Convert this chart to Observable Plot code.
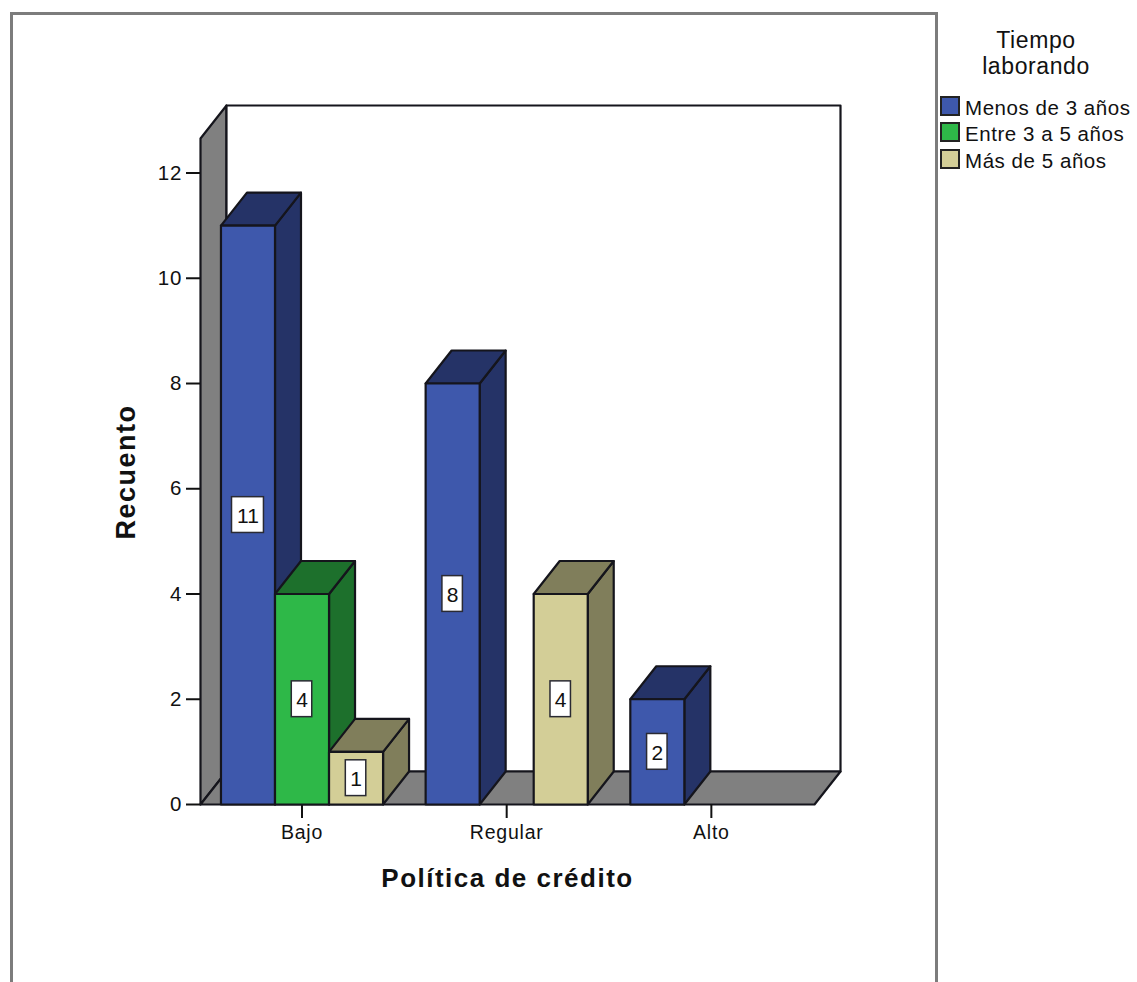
<!DOCTYPE html>
<html lang="es">
<head>
<meta charset="utf-8">
<title>Política de crédito por tiempo laborando</title>
<script src="https://cdn.jsdelivr.net/npm/d3@7"></script>
<script src="https://cdn.jsdelivr.net/npm/@observablehq/plot@0.6"></script>
<style>
  html, body { margin: 0; padding: 0; background: #fff; overflow: hidden; }
  #page { position: relative; width: 1137px; height: 982px; overflow: hidden; font-family: "Liberation Sans", Arial, sans-serif; color: #111; }
  #border { position: absolute; left: 10px; top: 12px; width: 922px; height: 1000px; border: 3px solid #7c7c7c; box-sizing: content-box; }
  #chart { position: absolute; left: 0; top: 0; }
  #legend-title { position: absolute; left: 936px; width: 200px; top: 27px; text-align: center; font-size: 23px; line-height: 26px; letter-spacing: 0.6px; }
  .key { position: absolute; left: 940px; height: 20px; white-space: nowrap; }
  .key i { position: absolute; left: 0; top: 0; width: 16px; height: 16px; border: 2px solid #222; }
  .key span { position: absolute; left: 25px; top: 0; font-size: 20.5px; line-height: 24px; letter-spacing: 0.55px; }
  g[aria-label="y-axis tick label"] { letter-spacing: 1px; }
  g[aria-label="x-axis tick label"] { letter-spacing: 0.8px; }
  .axis-title { letter-spacing: 1.5px; }
</style>
</head>
<body>
<div id="page">
  <div id="border"></div>
  <div id="chart"></div>
  <div id="legend-title">Tiempo<br>laborando</div>
  <div id="legend"></div>
</div>
<script>
// Counts per credit-policy level, one list per tenure group
const categories = ["Bajo", "Regular", "Alto"];
const seriesNames = ["Menos de 3 años", "Entre 3 a 5 años", "Más de 5 años"];
const menosDe3 = [11, 8, 2];
const entre3y5 = [4, 0, 0];
const masDe5 = [1, 4, 0];
const yTicks = [0, 2, 4, 6, 8, 10, 12];

// Face colours: front, then the shaded top and side
const frontColors = ["#3e58ac", "#2eb848", "#d3ce97"];
const shadeColors = ["#253367", "#1d702c", "#807e5b"];
const wallColor = "#808080";
const edgeColor = "#15151c";

// Extrusion depth and box proportions, in data units of each axis
const depthX = 0.127;
const depthY = 0.627;
const barWidth = 0.264;
const wallTop = 12.656;
const groupCentre = 0.496;

const seriesValues = [menosDe3, entre3y5, masDe5];
const bars = seriesValues.flatMap((values, s) =>
  values.map((value, c) => ({
    s, c, value,
    x0: c + groupCentre + (s - 1.5) * barWidth,
    x1: c + groupCentre + (s - 0.5) * barWidth
  }))
).filter(d => d.value > 0).sort((a, b) => a.x0 - b.x0);

// A closed outline becomes rows that Plot.line can fill
let faceId = 0;
const polygon = (fill, points) => {
  const face = faceId++;
  return [...points, points[0]].map(([x, y]) => ({face, fill, x, y}));
};

const roomFaces = [
  polygon(wallColor, [[0, 0], [0, wallTop], [depthX, wallTop + depthY], [depthX, depthY]]),
  polygon("#ffffff", [[depthX, depthY], [depthX, wallTop + depthY], [3 + depthX, wallTop + depthY], [3 + depthX, depthY]]),
  polygon(wallColor, [[0, 0], [3, 0], [3 + depthX, depthY], [depthX, depthY]])
].flat();

const barFaces = bars.flatMap(({s, value, x0, x1}) => [
  polygon(shadeColors[s], [[x1, 0], [x1 + depthX, depthY], [x1 + depthX, value + depthY], [x1, value]]),
  polygon(shadeColors[s], [[x0, value], [x0 + depthX, value + depthY], [x1 + depthX, value + depthY], [x1, value]]),
  polygon(frontColors[s], [[x0, 0], [x0, value], [x1, value], [x1, 0]])
]);

const faceOptions = {
  x: "x", y: "y", z: "face", fill: "fill",
  stroke: edgeColor, strokeWidth: 2.2, strokeLinejoin: "round", curve: "linear"
};

// Value tags are sized by digit count and centred on each bar's front face
const tagHalfWidth = d => (String(d.value).length > 1 ? 0.078 : 0.05);
const tagHalfHeight = 0.34;
const barMid = d => (d.x0 + d.x1) / 2;

const chart = Plot.plot({
  width: 1137,
  height: 982,
  marginLeft: 200,
  marginRight: 297,
  marginTop: 105,
  marginBottom: 178,
  style: {background: "transparent", fontFamily: "'Liberation Sans', Arial, sans-serif", color: "#111"},
  x: {domain: [0, 3 + depthX]},
  y: {domain: [0, wallTop + depthY]},
  color: {type: "identity"},
  marks: [
    Plot.line(roomFaces, faceOptions),
    Plot.axisY({
      ticks: yTicks, tickSize: 14, tickPadding: 4, fontSize: 20.5,
      strokeWidth: 2, label: null, tickFormat: d => String(d)
    }),
    Plot.axisX({
      ticks: categories.map((_, i) => i + groupCentre),
      tickFormat: v => categories[Math.round(v - groupCentre)],
      tickSize: 14, tickPadding: 7, fontSize: 19.5, strokeWidth: 2, label: null
    }),
    Plot.line(barFaces.flat(), faceOptions),
    Plot.rect(bars, {
      x1: d => barMid(d) - tagHalfWidth(d),
      x2: d => barMid(d) + tagHalfWidth(d),
      y1: d => d.value / 2 - tagHalfHeight,
      y2: d => d.value / 2 + tagHalfHeight,
      fill: "#ffffff", stroke: "#2a2a33", strokeWidth: 1.5
    }),
    Plot.text(bars, {
      x: barMid, y: d => d.value / 2, text: d => String(d.value), dy: 1,
      fontSize: 21, fill: "#111"
    }),
    Plot.text(["Recuento"], {
      frameAnchor: "left", y: 6.32, dx: -74, rotate: -90, textAnchor: "middle",
      fontSize: 27, fontWeight: "bold", fill: "#111", className: "axis-title"
    }),
    Plot.text(["Política de crédito"], {
      frameAnchor: "bottom", x: 1.5, dy: 74, lineAnchor: "middle",
      fontSize: 26, fontWeight: "bold", fill: "#111", className: "axis-title"
    })
  ]
});
document.getElementById("chart").appendChild(chart);

// Tenure legend beside the plot
const legend = document.getElementById("legend");
seriesNames.forEach((name, i) => {
  const row = document.createElement("div");
  row.className = "key";
  row.style.top = (95.5 + i * 26.5) + "px";
  const swatch = document.createElement("i");
  swatch.style.background = frontColors[i];
  const label = document.createElement("span");
  label.textContent = name;
  row.append(swatch, label);
  legend.appendChild(row);
});
</script>
</body>
</html>
